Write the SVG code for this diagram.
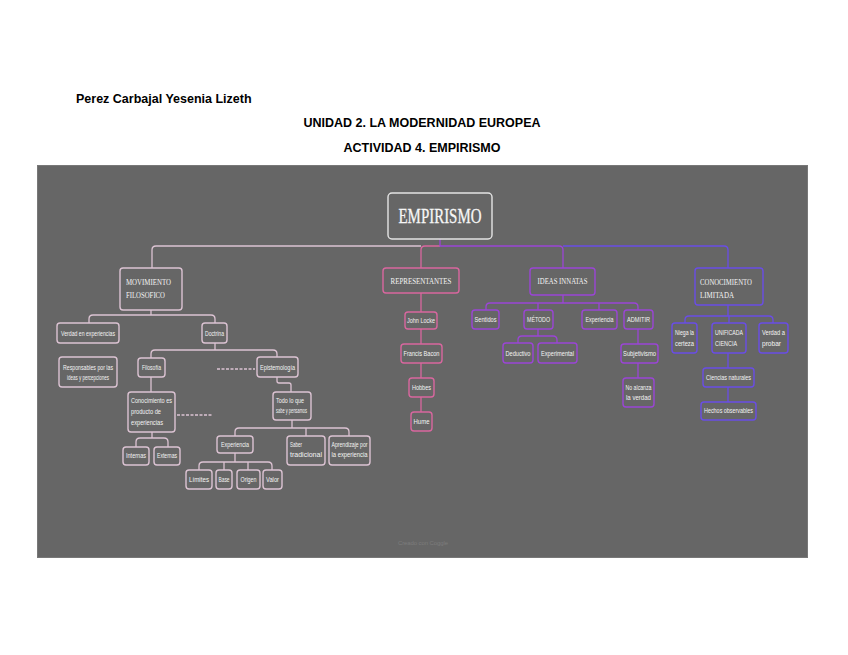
<svg xmlns="http://www.w3.org/2000/svg" width="848" height="655" viewBox="0 0 848 655">
<style>
.hd{font-family:"Liberation Sans",Arial,sans-serif;font-weight:bold;font-size:12.5px;fill:#000}
.bx{fill:#666666;stroke-width:1.4}
.p{stroke:#dcc3d3}.k{stroke:#d9679f}.u{stroke:#9b45d6}.b{stroke:#6a4de6}
.t{font-family:"Liberation Sans",Arial,sans-serif;font-size:6.4px;fill:#f4f4f4}
.c{text-anchor:middle}
.m{font-family:"Liberation Serif","Times New Roman",serif;font-size:8px;fill:#f4f4f4}
.ln{fill:none;stroke-width:1.3;stroke-linejoin:round}
.d{stroke-dasharray:3 1.5}
</style>
<rect width="848" height="655" fill="#ffffff"/>
<text class="hd" x="76" y="103">Perez Carbajal Yesenia Lizeth</text>
<text class="hd c" x="422" y="127">UNIDAD 2. LA MODERNIDAD EUROPEA</text>
<text class="hd c" x="422" y="152">ACTIVIDAD 4. EMPIRISMO</text>
<rect x="37.5" y="165.5" width="770" height="392" fill="#666666" stroke="#787878" stroke-width="1"/>
<text x="423" y="545" text-anchor="middle" font-family="Liberation Sans, Arial, sans-serif" font-size="6" fill="#7c7c7c" textLength="50">Creado con Coggle</text>

<g id="connectors">
<path class="ln p" d="M152,268 V250 Q152,246 156,246 H421"/>
<path class="ln k" d="M440,246 H425 Q421,246 421,250 V268 M421,293 V412"/>
<path class="ln u" d="M440,239 V246 H559 Q563,246 563,250 V268"/>
<path class="ln b" d="M563,246 H724 Q728,246 728,250 V268"/>
<path class="ln p" d="M151,310 V315 M89,323 V319 Q89,315 93,315 H211 Q215,315 215,319 V323"/>
<path class="ln p" d="M215,343 V350 M151,358 V354 Q151,350 155,350 H273 Q277,350 277,354 V357"/>
<path class="ln p" d="M151,377 V392"/>
<path class="ln p d" d="M217,369 H255 M177,415 H213"/>
<path class="ln p" d="M277,377 V381 Q277,383 279,383 H289 Q291,383 291,385 V392"/>
<path class="ln p" d="M152,432 V438 M136,447 V442 Q136,438 140,438 H164 Q168,438 168,442 V447"/>
<path class="ln p" d="M292,420 V428 M235,436 V432 Q235,428 239,428 H345 Q349,428 349,432 V436 M306,428 V436"/>
<path class="ln p" d="M235,453 V462 M199,470 V466 Q199,462 203,462 H268 Q272,462 272,466 V470 M224,462 V470 M248,462 V470"/>
<path class="ln u" d="M563,295 V303 M486,310 V307 Q486,303 490,303 H634 Q638,303 638,307 V310 M538,303 V310 M599,303 V310"/>
<path class="ln u" d="M538,329 V336 M518,343 V340 Q518,336 522,336 H553 Q557,336 557,340 V343"/>
<path class="ln u" d="M638,329 V344 M638,363 V378"/>
<path class="ln b" d="M728,305 V316 M685,323 V320 Q685,316 689,316 H769 Q773,316 773,320 V323 M729,316 V323"/>
<path class="ln b" d="M728,353 V368 M728,387 V402"/>
</g>

<g id="empirismo">
<rect x="388" y="193" width="104" height="46" rx="4" fill="#666666" stroke="#e4e4e4" stroke-width="1.4"/>
<text x="440" y="223" text-anchor="middle" font-family="Liberation Serif, Times New Roman, serif" font-size="21" fill="#f6f6f6" stroke="#f6f6f6" stroke-width="0.3" textLength="83" lengthAdjust="spacingAndGlyphs">EMPIRISMO</text>
</g>

<g id="movimiento"><rect class="bx p" x="120" y="268" width="62" height="42" rx="3"/>
<text class="m" x="126" y="285" textLength="45" lengthAdjust="spacingAndGlyphs">MOVIMIENTO</text>
<text class="m" x="126" y="298" textLength="39" lengthAdjust="spacingAndGlyphs">FILOSOFICO</text></g>
<g id="verdad-exp"><rect class="bx p" x="57" y="323" width="62" height="20" rx="3"/>
<text class="t c" x="88" y="335.5" textLength="54" lengthAdjust="spacingAndGlyphs">Verdad en experiencias</text></g>
<g id="doctrina"><rect class="bx p" x="202" y="323" width="25" height="20" rx="3"/>
<text class="t c" x="214.5" y="335.5" textLength="19" lengthAdjust="spacingAndGlyphs">Doctrina</text></g>
<g id="responsables"><rect class="bx p" x="59" y="357" width="58" height="30" rx="3"/>
<text class="t c" x="88" y="370" textLength="50" lengthAdjust="spacingAndGlyphs">Responsables por las</text>
<text class="t c" x="88" y="380" textLength="42" lengthAdjust="spacingAndGlyphs">ideas y percepciones</text></g>
<g id="filosofia"><rect class="bx p" x="138" y="358" width="27" height="19" rx="3"/>
<text class="t c" x="151.5" y="370" textLength="19" lengthAdjust="spacingAndGlyphs">Filosofía</text></g>
<g id="epistemologia"><rect class="bx p" x="257" y="357" width="41" height="20" rx="3"/>
<text class="t c" x="277.5" y="369.5" textLength="35" lengthAdjust="spacingAndGlyphs">Epistemología</text></g>
<g id="conocimiento-prod"><rect class="bx p" x="128" y="392" width="47" height="40" rx="3"/>
<text class="t" x="131" y="403" textLength="41" lengthAdjust="spacingAndGlyphs">Conocimiento es</text>
<text class="t" x="131" y="414" textLength="30" lengthAdjust="spacingAndGlyphs">producto de</text>
<text class="t" x="131" y="424.5" textLength="32" lengthAdjust="spacingAndGlyphs">experiencias</text></g>
<g id="todo"><rect class="bx p" x="273" y="392" width="38" height="28" rx="3"/>
<text class="t" x="276" y="402.5" textLength="28" lengthAdjust="spacingAndGlyphs">Todo lo que</text>
<text class="t" x="276" y="413" textLength="31" lengthAdjust="spacingAndGlyphs">sabe y pensamos</text></g>
<g id="internas"><rect class="bx p" x="123" y="447" width="26" height="18" rx="3"/>
<text class="t c" x="136" y="458" textLength="20" lengthAdjust="spacingAndGlyphs">Internas</text></g>
<g id="externas"><rect class="bx p" x="154" y="447" width="26" height="18" rx="3"/>
<text class="t c" x="167" y="458" textLength="20" lengthAdjust="spacingAndGlyphs">Externas</text></g>
<g id="experiencia-1"><rect class="bx p" x="217" y="436" width="36" height="17" rx="3"/>
<text class="t c" x="235" y="446.5" textLength="28" lengthAdjust="spacingAndGlyphs">Experiencia</text></g>
<g id="saber"><rect class="bx p" x="287" y="436" width="38" height="29" rx="3"/>
<text class="t" x="290" y="447" textLength="12" lengthAdjust="spacingAndGlyphs">Saber</text>
<text class="t" x="290" y="457" textLength="32" lengthAdjust="spacingAndGlyphs">tradicional</text></g>
<g id="aprendizaje"><rect class="bx p" x="329" y="436" width="41" height="29" rx="3"/>
<text class="t" x="331.5" y="447" textLength="36" lengthAdjust="spacingAndGlyphs">Aprendizaje por</text>
<text class="t" x="331.5" y="457" textLength="36" lengthAdjust="spacingAndGlyphs">la experiencia</text></g>
<g id="limites"><rect class="bx p" x="186" y="470" width="26" height="19" rx="3"/>
<text class="t c" x="199" y="481.5" textLength="20" lengthAdjust="spacingAndGlyphs">Límites</text></g>
<g id="base"><rect class="bx p" x="216" y="470" width="16" height="19" rx="3"/>
<text class="t c" x="224" y="481.5" textLength="11" lengthAdjust="spacingAndGlyphs">Base</text></g>
<g id="origen"><rect class="bx p" x="237" y="470" width="23" height="19" rx="3"/>
<text class="t c" x="248.5" y="481.5" textLength="16" lengthAdjust="spacingAndGlyphs">Origen</text></g>
<g id="valor"><rect class="bx p" x="263" y="470" width="19" height="19" rx="3"/>
<text class="t c" x="272.5" y="481.5" textLength="13" lengthAdjust="spacingAndGlyphs">Valor</text></g>

<g id="representantes"><rect class="bx k" x="383" y="268" width="76" height="25" rx="3"/>
<text class="m c" x="421" y="283.5" textLength="61" lengthAdjust="spacingAndGlyphs">REPRESENTANTES</text></g>
<g id="locke"><rect class="bx k" x="405" y="312" width="32" height="17" rx="3"/>
<text class="t c" x="421" y="322.5" textLength="28" lengthAdjust="spacingAndGlyphs">John Locke</text></g>
<g id="bacon"><rect class="bx k" x="401" y="344" width="41" height="19" rx="3"/>
<text class="t c" x="421.5" y="355.5" textLength="36" lengthAdjust="spacingAndGlyphs">Francis Bacon</text></g>
<g id="hobbes"><rect class="bx k" x="409" y="378" width="25" height="19" rx="3"/>
<text class="t c" x="421.5" y="389.5" textLength="19" lengthAdjust="spacingAndGlyphs">Hobbes</text></g>
<g id="hume"><rect class="bx k" x="411" y="412" width="21" height="19" rx="3"/>
<text class="t c" x="421.5" y="423.5" textLength="16" lengthAdjust="spacingAndGlyphs">Hume</text></g>

<g id="ideas"><rect class="bx u" x="530" y="268" width="65" height="27" rx="3"/>
<text class="m c" x="562.5" y="284" textLength="50" lengthAdjust="spacingAndGlyphs">IDEAS INNATAS</text></g>
<g id="sentidos"><rect class="bx u" x="472" y="310" width="27" height="19" rx="3"/>
<text class="t c" x="485.5" y="321.5" textLength="22" lengthAdjust="spacingAndGlyphs">Sentidos</text></g>
<g id="metodo"><rect class="bx u" x="524" y="310" width="29" height="19" rx="3"/>
<text class="t c" x="538.5" y="321.5" textLength="23" lengthAdjust="spacingAndGlyphs">MÉTODO</text></g>
<g id="experiencia-2"><rect class="bx u" x="582" y="310" width="35" height="19" rx="3"/>
<text class="t c" x="599.5" y="321.5" textLength="28" lengthAdjust="spacingAndGlyphs">Experiencia</text></g>
<g id="admitir"><rect class="bx u" x="624" y="310" width="29" height="19" rx="3"/>
<text class="t c" x="638.5" y="321.5" textLength="23" lengthAdjust="spacingAndGlyphs">ADMITIR</text></g>
<g id="deductivo"><rect class="bx u" x="503" y="343" width="30" height="20" rx="3"/>
<text class="t c" x="518" y="355.5" textLength="25" lengthAdjust="spacingAndGlyphs">Deductivo</text></g>
<g id="experimental"><rect class="bx u" x="538" y="343" width="39" height="20" rx="3"/>
<text class="t c" x="557.5" y="355.5" textLength="33" lengthAdjust="spacingAndGlyphs">Experimental</text></g>
<g id="subjetivismo"><rect class="bx u" x="621" y="344" width="37" height="19" rx="3"/>
<text class="t c" x="639.5" y="355.5" textLength="33" lengthAdjust="spacingAndGlyphs">Subjetivismo</text></g>
<g id="no-alcanza"><rect class="bx u" x="623" y="378" width="31" height="29" rx="3"/>
<text class="t c" x="638.5" y="390" textLength="26" lengthAdjust="spacingAndGlyphs">No alcanza</text>
<text class="t c" x="638.5" y="400" textLength="25" lengthAdjust="spacingAndGlyphs">la verdad</text></g>

<g id="conocimiento"><rect class="bx b" x="695" y="268" width="68" height="37" rx="3"/>
<text class="m" x="700" y="284.5" textLength="52" lengthAdjust="spacingAndGlyphs">CONOCIMIENTO</text>
<text class="m" x="700" y="297.5" textLength="34" lengthAdjust="spacingAndGlyphs">LIMITADA</text></g>
<g id="niega"><rect class="bx b" x="672" y="323" width="25" height="30" rx="3"/>
<text class="t" x="675" y="335" textLength="19" lengthAdjust="spacingAndGlyphs">Niega la</text>
<text class="t" x="675" y="345.5" textLength="19" lengthAdjust="spacingAndGlyphs">certeza</text></g>
<g id="unificada"><rect class="bx b" x="712" y="323" width="34" height="30" rx="3"/>
<text class="t" x="715" y="335" textLength="28" lengthAdjust="spacingAndGlyphs">UNIFICADA</text>
<text class="t" x="715" y="345.5" textLength="22" lengthAdjust="spacingAndGlyphs">CIENCIA</text></g>
<g id="verdad-probar"><rect class="bx b" x="759" y="323" width="29" height="30" rx="3"/>
<text class="t" x="762" y="335" textLength="23" lengthAdjust="spacingAndGlyphs">Verdad a</text>
<text class="t" x="762" y="345.5" textLength="19" lengthAdjust="spacingAndGlyphs">probar</text></g>
<g id="ciencias"><rect class="bx b" x="703" y="368" width="51" height="19" rx="3"/>
<text class="t c" x="728.5" y="379.5" textLength="45" lengthAdjust="spacingAndGlyphs">Ciencias naturales</text></g>
<g id="hechos"><rect class="bx b" x="701" y="402" width="55" height="18" rx="3"/>
<text class="t c" x="728.5" y="413" textLength="49" lengthAdjust="spacingAndGlyphs">Hechos observables</text></g>
</svg>
